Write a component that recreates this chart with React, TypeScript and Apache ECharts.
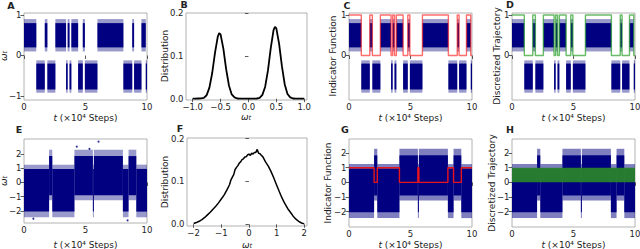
import React, { useEffect, useRef } from "react";
import * as echarts from "echarts";

// ---------- data ----------
// top row (A, C, D): metastable trajectory, state 1 = upper well, 0 = lower well (t in 1e4 steps)
const topSegStart = [0, 1.0, 1.69, 1.9, 2.55, 3.42, 3.55, 3.7, 3.85, 4.4, 4.78, 4.95, 5.97, 8.08, 8.8, 8.95, 9.55, 9.9];
const topSegEnd = [1.0, 1.69, 1.9, 2.55, 3.42, 3.55, 3.7, 3.85, 4.4, 4.78, 4.95, 5.97, 8.08, 8.8, 8.95, 9.55, 9.9, 10];
const topSegState = [1, 0, 1, 0, 1, 0, 1, 0, 1, 0, 1, 0, 1, 0, 1, 0, 1, 0];
const topUpperCore = [0.2, 0.8];
const topUpperFringe = [0.1, 0.9];
const topLowerCore = [-0.84, -0.2];
const topLowerFringe = [-0.92, -0.12];

// bottom row (E, G, H): state 1 = low-mean state, 0 = high-mean state
const botSegStart = [0, 2.04, 2.3, 4.1, 5.6, 5.68, 8.04, 8.5, 9.13];
const botSegEnd = [2.04, 2.3, 4.1, 5.6, 5.68, 8.04, 8.5, 9.13, 10];
const botSegState = [1, 0, 1, 0, 1, 0, 1, 0, 1];
const botLowCore = [-2.05, 0.95];
const botLowFringe = [-2.45, 1.25];
const botHighCore = [-0.9, 1.85];
const botHighFringe = [-1.25, 2.3];
const eOutliers = [[6.06, 2.86], [4.29, 2.51], [5.32, 2.35], [8.42, -2.67], [0.76, -2.55]];
const hGreenBand = [[0, 10, 0, 1]];

// B: distribution of omega (two peaks)
const bX = [-1.0, -0.95, -0.9, -0.85, -0.8, -0.75, -0.7, -0.65, -0.6, -0.55, -0.525, -0.5, -0.45, -0.4, -0.35, -0.3, -0.25, -0.2, -0.15, -0.1, -0.05, 0, 0.05, 0.1, 0.15, 0.2, 0.25, 0.3, 0.35, 0.4, 0.45, 0.475, 0.5, 0.55, 0.6, 0.65, 0.7, 0.75, 0.8, 0.85, 0.9, 0.95, 1.0];
const bY = [0, 0, 0.0005, 0.001, 0.002, 0.008, 0.026, 0.06, 0.107, 0.145, 0.153, 0.15, 0.117, 0.069, 0.031, 0.01, 0.003, 0.0005, 0, 0, 0, 0, 0, 0, 0.0005, 0.002, 0.009, 0.028, 0.066, 0.118, 0.16, 0.168, 0.164, 0.128, 0.076, 0.034, 0.011, 0.003, 0.0005, 0, 0, 0, 0];

// F: distribution of omega (broad)
const fX = [-2.0, -1.9, -1.8, -1.7, -1.6, -1.5, -1.4, -1.3, -1.2, -1.1, -1.0, -0.9, -0.85, -0.8, -0.75, -0.7, -0.65, -0.6, -0.55, -0.5, -0.45, -0.4, -0.35, -0.3, -0.25, -0.2, -0.15, -0.1, -0.05, 0, 0.05, 0.1, 0.15, 0.2, 0.25, 0.3, 0.35, 0.4, 0.45, 0.5, 0.6, 0.7, 0.8, 0.9, 1.0, 1.1, 1.2, 1.3, 1.4, 1.5, 1.6, 1.7, 1.8, 1.9, 2.0];
const fY = [0.002, 0.004, 0.007, 0.011, 0.016, 0.022, 0.028, 0.035, 0.042, 0.05, 0.059, 0.068, 0.074, 0.08, 0.086, 0.093, 0.104, 0.11, 0.116, 0.128, 0.133, 0.137, 0.143, 0.146, 0.151, 0.153, 0.157, 0.158, 0.162, 0.164, 0.161, 0.166, 0.164, 0.168, 0.168, 0.175, 0.166, 0.165, 0.161, 0.158, 0.146, 0.136, 0.123, 0.108, 0.092, 0.076, 0.061, 0.048, 0.037, 0.028, 0.019, 0.012, 0.007, 0.003, 0.001];

const timeTicks = [0, 5, 10];
const topWTicks = [-1, 0, 1];
const indicatorTicks = [0, 1];
const distTicks = [0, 0.1, 0.2];
const bXTicks = [-1, -0.5, 0, 0.5, 1];
const fXTicks = [-2, -1, 0, 1, 2];
const botWTicks = [-2, -1, 0, 1, 2];

// ---------- helpers ----------
const FONT = "DejaVu Sans";
const NAVY = "#000080";

const zip = (xs: number[], ys: number[]) => xs.map((x, i) => [x, ys[i]]);

function bandRects(starts: number[], ends: number[], states: number[], band1: number[], band0: number[]) {
  return starts.map((s, i) => {
    const b = states[i] === 1 ? band1 : band0;
    return [s, ends[i], b[0], b[1]];
  });
}

function stepPoints(starts: number[], ends: number[], states: number[]) {
  const pts: number[][] = [];
  starts.forEach((s, i) => {
    pts.push([s, states[i]]);
    pts.push([ends[i], states[i]]);
  });
  return pts;
}

const rectSeries = (idx: number, data: number[][], color: string, opacity: number) => ({
  type: "custom",
  xAxisIndex: idx,
  yAxisIndex: idx,
  data,
  encode: { x: [0, 1], y: [2, 3] },
  silent: true,
  renderItem: (_p: any, api: any) => {
    const a = api.coord([api.value(0), api.value(3)]);
    const b = api.coord([api.value(1), api.value(2)]);
    return {
      type: "rect",
      shape: { x: a[0], y: a[1], width: Math.max(b[0] - a[0], 0.8), height: b[1] - a[1] },
      style: { fill: color, opacity },
    };
  },
});

const lineSeries = (idx: number, data: number[][], color: string, width: number) => ({
  type: "line",
  xAxisIndex: idx,
  yAxisIndex: idx,
  data,
  showSymbol: false,
  symbol: "none",
  silent: true,
  lineStyle: { color, width },
});

const minus = (s: string) => s.replace("-", "\u2212");

const grids = [
  { left: 24, top: 13, width: 123, height: 87 },
  { left: 186, top: 13, width: 121, height: 87 },
  { left: 349, top: 13, width: 123, height: 87 },
  { left: 512, top: 13, width: 123, height: 87 },
  { left: 24, top: 139, width: 123, height: 84 },
  { left: 187, top: 138, width: 120, height: 88 },
  { left: 349, top: 139, width: 123, height: 88 },
  { left: 512, top: 139, width: 123, height: 88 },
];

function axis(idx: number, min: number, max: number, ticks: number[], fmt?: (v: number) => string) {
  return {
    type: "value",
    gridIndex: idx,
    min,
    max,
    axisLine: { show: false },
    splitLine: { show: false },
    axisTick: { show: true, length: 3.5, customValues: ticks, lineStyle: { color: "#333", width: 0.8 } },
    axisLabel: {
      show: true,
      customValues: ticks,
      fontSize: 8.5,
      color: "#222",
      margin: 2.5,
      fontFamily: FONT,
      formatter: (v: number) => minus(fmt ? fmt(v) : String(v)),
    },
  };
}

const f1 = (v: number) => v.toFixed(1);

const txt = (x: number, y: number, text: string, opts: any = {}) => ({
  type: "text",
  x,
  y,
  rotation: opts.rot ? Math.PI / 2 : 0,
  silent: true,
  style: {
    text,
    fill: "#222",
    fontSize: opts.size || 9,
    fontFamily: FONT,
    fontWeight: opts.bold ? "bold" : "normal",
    align: "center",
    verticalAlign: "middle",
    textAlign: "center",
    textVerticalAlign: "middle",
    rich: {
      i: { fontStyle: "italic", fontSize: opts.size || 9, fontFamily: FONT, fill: "#222" },
      s: { fontStyle: "italic", fontSize: 6.5, fontFamily: FONT, fill: "#222", verticalAlign: "bottom" },
    },
  },
});

const TLABEL = "{i|t} (\u00d710\u2074 Steps)";
const WLABEL = "{i|\u03c9}{s|t}";

export default function App() {
  const ref = useRef<HTMLDivElement>(null);
  useEffect(() => {
    if (!ref.current) return;
    const chart = echarts.init(ref.current, undefined, { renderer: "svg" });

    const topData = (band1: number[], band0: number[]) => bandRects(topSegStart, topSegEnd, topSegState, band1, band0);
    const botData = (band1: number[], band0: number[]) => bandRects(botSegStart, botSegEnd, botSegState, band1, band0);
    const topFringe = topData(topUpperFringe, topLowerFringe);
    const topCore = topData(topUpperCore, topLowerCore);
    const botFringe = botData(botLowFringe, botHighFringe);
    const botCore = botData(botLowCore, botHighCore);

    const series: any[] = [];
    [0, 2, 3].forEach((i) => {
      series.push(rectSeries(i, topFringe, NAVY, 0.4));
      series.push(rectSeries(i, topCore, NAVY, 1));
    });
    series.push(lineSeries(2, stepPoints(topSegStart, topSegEnd, topSegState), "rgba(255,30,30,0.65)", 1.4));
    series.push(lineSeries(3, stepPoints(topSegStart, topSegEnd, topSegState), "rgba(40,160,40,0.7)", 1.4));
    series.push(lineSeries(1, zip(bX, bY), "#000", 1.8));
    [4, 6, 7].forEach((i) => {
      series.push(rectSeries(i, botFringe, NAVY, i === 4 ? 0.4 : 0.5));
      series.push(rectSeries(i, botCore, NAVY, 1));
    });
    series.push({
      type: "scatter",
      xAxisIndex: 4,
      yAxisIndex: 4,
      data: eOutliers,
      symbolSize: 2,
      itemStyle: { color: NAVY },
      silent: true,
    });
    series.push(lineSeries(6, stepPoints(botSegStart, botSegEnd, botSegState), "#e8141b", 1.4));
    series.push(rectSeries(7, hGreenBand, "#2a862a", 0.92));
    series.push(lineSeries(5, zip(fX, fY), "#000", 1.5));

    const xAxis = [
      axis(0, 0, 10, timeTicks),
      axis(1, -1.12, 1.05, bXTicks, f1),
      axis(2, 0, 10, timeTicks),
      axis(3, 0, 10, timeTicks),
      axis(4, 0, 10, timeTicks),
      axis(5, -2.24, 2.1, fXTicks),
      axis(6, 0, 10, timeTicks),
      axis(7, 0, 10, timeTicks),
    ];
    const yAxis = [
      axis(0, -1.1, 1.05, topWTicks),
      axis(1, -0.003, 0.2, distTicks, f1),
      axis(2, -1.1, 1.05, indicatorTicks),
      axis(3, -1.1, 1.05, indicatorTicks),
      axis(4, -2.85, 3.05, botWTicks),
      axis(5, -0.004, 0.2016, distTicks, f1),
      axis(6, -3.06, 2.97, botWTicks),
      axis(7, -3.06, 2.97, botWTicks),
    ];

    const graphic = [
      txt(11, 5, "A", { bold: true, size: 9.5 }),
      txt(184, 4, "B", { bold: true, size: 9.5 }),
      txt(347, 5, "C", { bold: true, size: 9.5 }),
      txt(510, 4.5, "D", { bold: true, size: 9.5 }),
      txt(19, 129.5, "E", { bold: true, size: 9.5 }),
      txt(180, 128.5, "F", { bold: true, size: 9.5 }),
      txt(345, 129.5, "G", { bold: true, size: 9.5 }),
      txt(510, 129.5, "H", { bold: true, size: 9.5 }),
      txt(4, 56, WLABEL, { rot: true }),
      txt(165, 56, "Distribution", { rot: true }),
      txt(333, 56, "Indicator Function", { rot: true }),
      txt(496.5, 56, "Discretized Trajectory", { rot: true }),
      txt(4, 181, WLABEL, { rot: true }),
      txt(165, 182, "Distribution", { rot: true }),
      txt(328, 183, "Indicator Function", { rot: true }),
      txt(492, 183, "Discretized Trajectory", { rot: true }),
      txt(85.5, 118, TLABEL),
      txt(246, 117, WLABEL),
      txt(410.5, 118, TLABEL),
      txt(573.5, 118, TLABEL),
      txt(85.5, 244.5, TLABEL),
      txt(247, 244.5, WLABEL),
      txt(410.5, 244.5, TLABEL),
      txt(573.5, 244.5, TLABEL),
    ];

    chart.setOption({
      animation: false,
      backgroundColor: "#fff",
      grid: grids.map((g) => ({
        ...g,
        show: true,
        borderColor: "#a0a0a0",
        borderWidth: 0.8,
        backgroundColor: "transparent",
        containLabel: false,
        outerBoundsMode: "none",
      })),
      xAxis,
      yAxis,
      series,
      graphic,
    });
    return () => chart.dispose();
  }, []);
  return <div ref={ref} style={{ position: "absolute", left: 0, top: 0, width: 640, height: 249 }} />;
}
